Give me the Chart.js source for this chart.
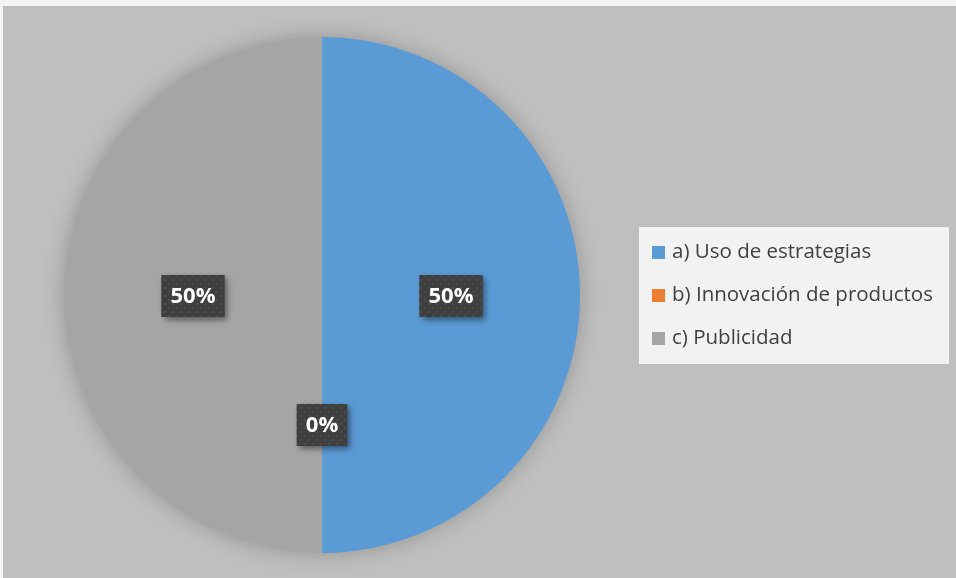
<!DOCTYPE html>
<html>
<head>
<meta charset="utf-8">
<script src="https://cdn.jsdelivr.net/npm/chart.js@4.4.1/dist/chart.umd.min.js"></script>
<style>
    html, body { margin: 0; padding: 0; background: #f4f4f4; }
    #wrap { position: absolute; left: 3px; top: 6px; width: 953px; height: 572px; background: #bfbfbf; }
</style>
</head>
<body>
<div id="wrap"><canvas id="myChart" width="953" height="572"></canvas></div>
<script>
// #region data
const categories = ['a) Uso de estrategias', 'b) Innovación de productos', 'c) Publicidad'];
const values = [50, 0, 50];
const colors = ['#5b9bd5', '#ed7d31', '#a5a5a5'];
// #endregion data

const graph = document.querySelector('#myChart');

function dotPattern(ctx) {
    const p = document.createElement('canvas');
    p.width = 8; p.height = 8;
    const c = p.getContext('2d');
    c.fillStyle = '#3f3f3f';
    c.fillRect(0, 0, 8, 8);
    c.fillStyle = '#4b4b4b';
    c.beginPath(); c.arc(2, 2, 1.3, 0, Math.PI * 2); c.fill();
    c.beginPath(); c.arc(6, 6, 1.3, 0, Math.PI * 2); c.fill();
    return ctx.createPattern(p, 'repeat');
}

// soft shadow under the pie (drawn once, behind the slices)
const pieShadow = {
    id: 'pieShadow',
    beforeDatasetsDraw(chart) {
        const ctx = chart.ctx;
        const arc = chart.getDatasetMeta(0).data[0];
        if (!arc) return;
        ctx.save();
        ctx.shadowColor = 'rgba(0,0,0,0.25)';
        ctx.shadowBlur = 22;
        ctx.fillStyle = '#a5a5a5';
        ctx.beginPath();
        ctx.arc(arc.x, arc.y, arc.outerRadius - 1, 0, Math.PI * 2);
        ctx.fill();
        ctx.restore();
    }
};

// percentage boxes on each slice
const pctLabels = {
    id: 'pctLabels',
    afterDatasetsDraw(chart) {
        const ctx = chart.ctx;
        const meta = chart.getDatasetMeta(0);
        const total = values.reduce((a, b) => a + b, 0);
        const pat = dotPattern(ctx);
        ctx.save();
        ctx.font = 'bold 22px "Open Sans", sans-serif';
        meta.data.forEach((arc, i) => {
            const pos = arc.tooltipPosition();
            const txt = Math.round(values[i] / total * 100) + '%';
            const w = ctx.measureText(txt).width + 18;
            const h = 42;
            const x = pos.x - w / 2, y = pos.y - h / 2 + 1;
            ctx.save();
            ctx.shadowColor = 'rgba(0,0,0,0.45)';
            ctx.shadowBlur = 6;
            ctx.shadowOffsetX = 3;
            ctx.shadowOffsetY = 3;
            ctx.fillStyle = '#404040';
            ctx.fillRect(x, y, w, h);
            ctx.restore();
            ctx.fillStyle = pat;
            ctx.fillRect(x, y, w, h);
            ctx.fillStyle = '#ffffff';
            ctx.textAlign = 'center';
            ctx.textBaseline = 'middle';
            ctx.fillText(txt, pos.x, y + h / 2 + 1);
        });
        ctx.restore();
    }
};

// legend box on the right
const sideLegend = {
    id: 'sideLegend',
    afterDraw(chart) {
        const ctx = chart.ctx;
        ctx.save();
        ctx.fillStyle = '#f2f2f2';
        ctx.fillRect(636, 221, 310, 137);
        ctx.font = '20.5px "Open Sans", sans-serif';
        ctx.textBaseline = 'middle';
        categories.forEach((name, i) => {
            const y = 246 + i * 43;
            ctx.fillStyle = colors[i];
            ctx.fillRect(649, y - 6, 13, 13);
            ctx.fillStyle = '#404040';
            ctx.fillText(name, 669, y);
        });
        ctx.restore();
    }
};

function graphrender() {
    new Chart(graph.getContext('2d'), {
        type: 'pie',
        data: {
            labels: categories,
            datasets: [{
                data: values,
                backgroundColor: colors,
                borderWidth: 0
            }]
        },
        options: {
            responsive: false,
            animation: false,
            layout: {
                padding: { left: 61, right: 376, top: 31, bottom: 25 }
            },
            plugins: {
                legend: { display: false },
                tooltip: { enabled: false }
            }
        },
        plugins: [pieShadow, pctLabels, sideLegend]
    });
}

graphrender();
</script>
</body>
</html>
